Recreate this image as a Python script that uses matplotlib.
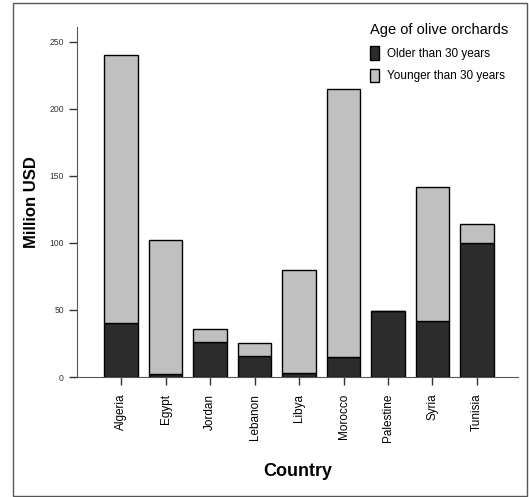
import numpy as np
import matplotlib
matplotlib.use("Agg")
import matplotlib.pyplot as plt
from matplotlib.patches import Rectangle

countries = ["Algeria", "Egypt", "Jordan", "Lebanon", "Libya",
             "Morocco", "Palestine", "Syria", "Tunisia"]
older = [40, 2, 26, 16, 3, 15, 49, 42, 100]
totals = [240, 102, 36, 25, 80, 215, 49, 142, 114]
younger = [t - o for t, o in zip(totals, older)]
yticks = [0, 50, 100, 150, 200, 250]

plt.rcParams['font.family'] = ['Liberation Sans', 'DejaVu Sans']

fig = plt.figure(figsize=(5.29, 4.97), dpi=100)
ax = fig.add_axes([0.1456, 0.2414, 0.979 - 0.1456, 0.9457 - 0.2414])

x = np.arange(len(countries))
ax.bar(x, older, width=0.76, color="#2c2c2c", edgecolor="black", linewidth=1,
       label="Older than 30 years")
ax.bar(x, younger, width=0.76, bottom=older, color="#c0c0c0", edgecolor="black",
       linewidth=1, label="Younger than 30 years")

ax.set_xlim(-0.99, 8.92)
ax.set_ylim(0, 261)
ax.set_xticks(x)
ax.set_xticklabels(countries, rotation=90, fontsize=8.5)
ax.set_yticks(yticks)
ax.set_yticklabels([str(v) for v in yticks], fontsize=6.2, color="#333333")
ax.tick_params(axis="both", direction="out", length=6, width=1, color="#333333")
ax.tick_params(axis="x", pad=6)

for s in ["top", "right"]:
    ax.spines[s].set_visible(False)
for s in ["left", "bottom"]:
    ax.spines[s].set_color("#555555")

ax.set_ylabel("Million USD", fontsize=12, fontweight="bold", labelpad=7)
ax.set_xlabel("Country", fontsize=13, fontweight="bold", labelpad=15)

leg = ax.legend(title="Age of olive orchards", loc="upper left",
                bbox_to_anchor=(0.664, 1.011), frameon=False, fontsize=8.5,
                title_fontsize=10.5, handlelength=0.8, handleheight=1.4,
                handletextpad=0.7, labelspacing=0.75, alignment="left",
                borderpad=0, borderaxespad=0)

fig.patches.append(Rectangle((13 / 529, 1 - 496 / 497), (527 - 13) / 529,
                             (496 - 3) / 497, transform=fig.transFigure,
                             fill=False, edgecolor="#555555", linewidth=1))

fig.savefig("out.png", dpi=100)
